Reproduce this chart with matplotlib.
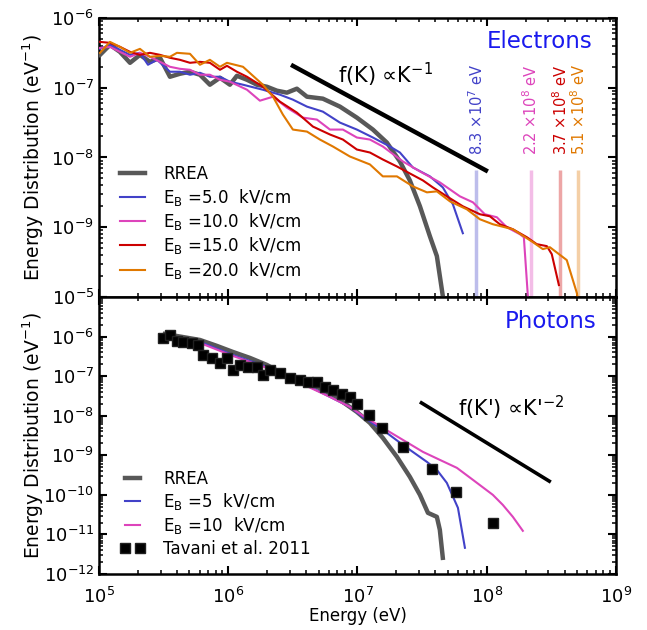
import numpy as np
import matplotlib
matplotlib.use("Agg")
import matplotlib.pyplot as plt
from matplotlib.ticker import LogLocator, FixedLocator, FixedFormatter, NullFormatter

# ---------------- data (log10 values) ----------------
# Electrons (top panel)
rrea_e_logE = [5.008, 5.085, 5.162, 5.240, 5.317, 5.394, 5.472, 5.549, 5.626, 5.704, 5.781, 5.858, 5.936, 6.013,
               6.067, 6.145, 6.222, 6.299, 6.377, 6.454, 6.531, 6.609, 6.732, 6.864, 6.995, 7.119, 7.227, 7.328,
               7.405, 7.483, 7.560, 7.614, 7.660, 7.684]
rrea_e_logf = [-6.529, -6.386, -6.486, -6.643, -6.529, -6.629, -6.571, -6.843, -6.800, -6.771, -6.814, -6.957,
               -6.857, -6.957, -6.829, -6.886, -6.957, -6.986, -7.043, -7.071, -7.014, -7.129, -7.157, -7.271,
               -7.429, -7.600, -7.786, -8.057, -8.329, -8.700, -9.129, -9.414, -9.986, -10.171]

eb5_e_logE = [5.008, 5.085, 5.162, 5.240, 5.317, 5.379, 5.449, 5.549, 5.626, 5.704, 5.781, 5.858, 5.936, 6.013,
              6.114, 6.268, 6.400, 6.500, 6.609, 6.732, 6.864, 6.995, 7.119, 7.251, 7.328, 7.428, 7.560, 7.660,
              7.738, 7.815]
eb5_e_logf = [-6.443, -6.386, -6.457, -6.529, -6.500, -6.671, -6.600, -6.771, -6.771, -6.814, -6.786, -6.843,
              -6.843, -6.914, -6.957, -7.029, -7.100, -7.171, -7.271, -7.343, -7.500, -7.600, -7.714, -7.843,
              -7.929, -8.143, -8.271, -8.429, -8.671, -9.086]

eb10_e_logE = [5.008, 5.085, 5.162, 5.240, 5.317, 5.394, 5.472, 5.549, 5.626, 5.704, 5.781, 5.858, 5.936, 6.013,
               6.145, 6.245, 6.346, 6.454, 6.578, 6.686, 6.787, 6.887, 6.995, 7.096, 7.196, 7.351, 7.483, 7.637,
               7.792, 7.893, 7.985, 8.078, 8.155, 8.256, 8.287, 8.318, 8.326]
eb10_e_logf = [-6.429, -6.414, -6.486, -6.557, -6.500, -6.557, -6.629, -6.700, -6.729, -6.743, -6.814, -6.814,
               -6.886, -6.914, -7.029, -7.186, -7.129, -7.286, -7.429, -7.457, -7.600, -7.600, -7.714, -7.743,
               -7.843, -8.057, -8.200, -8.357, -8.557, -8.643, -8.814, -8.857, -9.000, -9.100, -9.143, -9.986,
               -10.100]

eb15_e_logE = [5.008, 5.085, 5.162, 5.240, 5.317, 5.394, 5.472, 5.549, 5.626, 5.704, 5.781, 5.858, 5.936, 5.990,
               6.067, 6.145, 6.268, 6.400, 6.531, 6.655, 6.787, 6.887, 6.995, 7.096, 7.196, 7.305, 7.405, 7.506,
               7.583, 7.691, 7.815, 7.947, 8.024, 8.101, 8.202, 8.310, 8.387, 8.465, 8.503, 8.558]
eb15_e_logf = [-6.343, -6.357, -6.414, -6.486, -6.529, -6.500, -6.529, -6.571, -6.600, -6.643, -6.629, -6.643,
               -6.743, -6.686, -6.771, -6.843, -6.986, -7.200, -7.357, -7.557, -7.671, -7.743, -7.886, -7.929,
               -8.029, -8.129, -8.229, -8.329, -8.429, -8.557, -8.700, -8.814, -8.843, -8.957, -9.029, -9.143,
               -9.243, -9.271, -9.386, -9.829]

eb20_e_logE = [5.008, 5.085, 5.162, 5.240, 5.317, 5.394, 5.472, 5.549, 5.603, 5.704, 5.781, 5.858, 5.936, 5.990,
               6.114, 6.191, 6.268, 6.346, 6.423, 6.500, 6.609, 6.709, 6.810, 6.941, 7.096, 7.196, 7.305, 7.428,
               7.537, 7.614, 7.715, 7.846, 7.947, 8.047, 8.202, 8.357, 8.434, 8.488, 8.619, 8.697, 8.710]
eb20_e_logf = [-6.500, -6.343, -6.414, -6.500, -6.443, -6.557, -6.543, -6.557, -6.500, -6.514, -6.671, -6.600,
               -6.700, -6.643, -6.700, -6.829, -6.957, -7.129, -7.386, -7.600, -7.629, -7.743, -7.843, -7.986,
               -8.100, -8.271, -8.271, -8.414, -8.500, -8.486, -8.629, -8.743, -8.886, -8.957, -9.029, -9.214,
               -9.314, -9.286, -9.471, -9.943, -10.100]

cutoff_energies = [8.3e7, 2.2e8, 3.7e8, 5.1e8]
cutoff_labels = [r"8.3 $\mathregular{\times10^{7}}$ eV", r"2.2 $\mathregular{\times10^{8}}$ eV",
                 r"3.7 $\mathregular{\times10^{8}}$ eV", r"5.1 $\mathregular{\times10^{8}}$ eV"]

# Photons (bottom panel)
rrea_p_logE = [5.510, 5.781, 5.913, 6.036, 6.168, 6.299, 6.423, 6.554, 6.686, 6.810, 6.918, 6.995, 7.096, 7.196,
               7.305, 7.405, 7.483, 7.545, 7.614, 7.637, 7.660]
rrea_p_logf = [-5.934, -6.086, -6.237, -6.389, -6.540, -6.717, -6.944, -7.121, -7.273, -7.475, -7.727, -7.904,
               -8.182, -8.561, -9.040, -9.545, -10.000, -10.455, -10.556, -10.884, -11.591]

eb5_p_logE = [5.510, 5.781, 6.036, 6.299, 6.554, 6.787, 6.941, 7.042, 7.196, 7.351, 7.537, 7.614, 7.691, 7.777,
              7.831]
eb5_p_logf = [-5.960, -6.136, -6.465, -6.768, -7.146, -7.525, -7.778, -8.030, -8.359, -8.737, -9.167, -9.369,
              -9.697, -10.328, -11.338]

eb10_p_logE = [5.510, 5.781, 6.036, 6.299, 6.554, 6.787, 6.941, 7.042, 7.196, 7.351, 7.506, 7.637, 7.769, 7.893,
               8.047, 8.124, 8.202, 8.279]
eb10_p_logf = [-5.985, -6.162, -6.490, -6.793, -7.172, -7.525, -7.778, -8.005, -8.308, -8.611, -8.914, -9.116,
               -9.318, -9.621, -10.000, -10.253, -10.556, -10.909]

tavani_logE = [5.495, 5.549, 5.603, 5.650, 5.719, 5.766, 5.804, 5.874, 5.936, 5.990, 6.036, 6.090, 6.152, 6.222,
               6.268, 6.322, 6.400, 6.477, 6.554, 6.616, 6.686, 6.748, 6.810, 6.879, 6.941, 6.995, 7.088, 7.189,
               7.351, 7.576, 7.761, 8.047]
tavani_logf = [-6.035, -5.960, -6.111, -6.136, -6.162, -6.212, -6.465, -6.540, -6.667, -6.540, -6.843, -6.717,
               -6.768, -6.768, -6.970, -6.843, -6.919, -7.045, -7.096, -7.146, -7.146, -7.273, -7.348, -7.449,
               -7.525, -7.702, -7.980, -8.308, -8.788, -9.343, -9.924, -10.707]

# power-law guide lines (end points)
guide_e_E = [3.06e6, 1.02e8]
guide_e_f = [2.13e-7, 6.3e-9]
guide_p_E = [3.04e7, 3.13e8]
guide_p_f = [2.23e-8, 2.1e-10]

# ---------------- style ----------------
c_gray = "#585858"
c_blue = "#4242c8"
c_mag = "#dd44bb"
c_red = "#cc0000"
c_orange = "#e07800"
c_title = "#1a1aee"

plt.rcParams['font.family'] = ['DejaVu Sans']
plt.rcParams['mathtext.fontset'] = 'dejavusans'

fig = plt.figure(figsize=(6.47, 6.30), dpi=100)
ax1 = fig.add_axes([0.1530, 0.5286, 0.7991, 0.4429])
ax2 = fig.add_axes([0.1530, 0.0889, 0.7991, 0.4397])

def p(v):
    return 10 ** np.asarray(v)

# top panel
ax1.plot(p(rrea_e_logE), p(rrea_e_logf), color=c_gray, lw=3.2, label="RREA", zorder=3)
ax1.plot(p(eb5_e_logE), p(eb5_e_logf), color=c_blue, lw=1.5, label=r"$\mathregular{E_B}$ =5.0  kV/cm", zorder=4)
ax1.plot(p(eb10_e_logE), p(eb10_e_logf), color=c_mag, lw=1.5, label=r"$\mathregular{E_B}$ =10.0  kV/cm", zorder=4)
ax1.plot(p(eb15_e_logE), p(eb15_e_logf), color=c_red, lw=1.5, label=r"$\mathregular{E_B}$ =15.0  kV/cm", zorder=4)
ax1.plot(p(eb20_e_logE), p(eb20_e_logf), color=c_orange, lw=1.5, label=r"$\mathregular{E_B}$ =20.0  kV/cm", zorder=4)
ax1.plot(guide_e_E, guide_e_f, color='black', lw=3.2, solid_capstyle='butt')

for E, lab, c in zip(cutoff_energies, cutoff_labels, [c_blue, c_mag, c_red, c_orange]):
    ax1.plot([E, E], [6.7e-9, 1e-10], color=c, lw=2.5, alpha=0.35, zorder=2, solid_capstyle='butt')
    ax1.text(E, 1.07e-8, lab, rotation=90, color=c, fontsize=10.5, ha='center', va='bottom')

ax1.text(0.954, 0.914, "Electrons", transform=ax1.transAxes, color=c_title, fontsize=16.5,
         ha='right', va='center')
ax1.text(7.05e6, 1.55e-7, "f(K) \u221dK$^{-1}$", fontsize=15, ha='left', va='center')

ax1.set_xscale('log'); ax1.set_yscale('log')
ax1.set_xlim(1e5, 1e9); ax1.set_ylim(1e-10, 1e-6)
ax1.yaxis.set_major_locator(FixedLocator([1e-10, 1e-9, 1e-8, 1e-7, 1e-6]))
ax1.yaxis.set_major_formatter(FixedFormatter(["", r"$\mathregular{10^{-9}}$", r"$\mathregular{10^{-8}}$",
                                              r"$\mathregular{10^{-7}}$", r"$\mathregular{10^{-6}}$"]))
ax1.xaxis.set_major_formatter(NullFormatter())
ax1.xaxis.set_minor_formatter(NullFormatter())
ax1.set_ylabel(r"Energy Distribution (eV$^{-1}$)", fontsize=13.5)

leg1 = ax1.legend(loc='lower left', bbox_to_anchor=(0.028, 0.035), frameon=False, fontsize=12,
                  handlelength=1.5, handletextpad=1.1, labelspacing=0.2, borderaxespad=0)

# bottom panel
ax2.plot(p(rrea_p_logE), p(rrea_p_logf), color=c_gray, lw=3.2, label="RREA", zorder=3)
ax2.plot(p(eb5_p_logE), p(eb5_p_logf), color=c_blue, lw=1.5, label=r"$\mathregular{E_B}$ =5  kV/cm", zorder=4)
ax2.plot(p(eb10_p_logE), p(eb10_p_logf), color=c_mag, lw=1.5, label=r"$\mathregular{E_B}$ =10  kV/cm", zorder=4)
ax2.plot(p(tavani_logE), p(tavani_logf), ls='none', marker='s', ms=7, color='black', mec='#202020',
         label="Tavani et al. 2011", zorder=5)
ax2.plot(guide_p_E, guide_p_f, color='black', lw=2.6, solid_capstyle='butt')

ax2.text(0.963, 0.91, "Photons", transform=ax2.transAxes, color=c_title, fontsize=16.5,
         ha='right', va='center')
ax2.text(6.0e7, 1.6e-8, "f(K') \u221dK'$^{-2}$", fontsize=15, ha='left', va='center')

ax2.set_xscale('log'); ax2.set_yscale('log')
ax2.set_xlim(1e5, 1e9); ax2.set_ylim(1e-12, 1e-5)
ax2.yaxis.set_major_locator(FixedLocator([10.0 ** k for k in range(-12, -4)]))
ax2.yaxis.set_major_formatter(FixedFormatter([r"$\mathregular{10^{%d}}$" % k for k in range(-12, -4)]))
ax2.set_xlabel("Energy (eV)", fontsize=12, labelpad=0)
ax2.set_ylabel(r"Energy Distribution (eV$^{-1}$)", fontsize=13.5)

leg2 = ax2.legend(loc='lower left', bbox_to_anchor=(0.028, 0.035), frameon=False, fontsize=12,
                  handlelength=1.5, handletextpad=1.1, labelspacing=0.2, borderaxespad=0, numpoints=2)

for ax in (ax1, ax2):
    ax.yaxis.set_minor_locator(LogLocator(base=10, subs=np.arange(2, 10), numticks=100))
    ax.yaxis.set_minor_formatter(NullFormatter())
    ax.xaxis.set_minor_locator(LogLocator(base=10, subs=np.arange(2, 10), numticks=100))
    ax.tick_params(which='both', direction='in', top=True, right=True, labelsize=13)
    ax.tick_params(which='major', length=6, width=1.5)
    ax.tick_params(which='minor', length=3, width=1.1)
    ax.tick_params(axis='x', which='major', pad=9)
    for s in ax.spines.values():
        s.set_linewidth(1.8)
    ax.yaxis.set_label_coords(-0.103, 0.5)

fig.savefig("out.png", dpi=100)
